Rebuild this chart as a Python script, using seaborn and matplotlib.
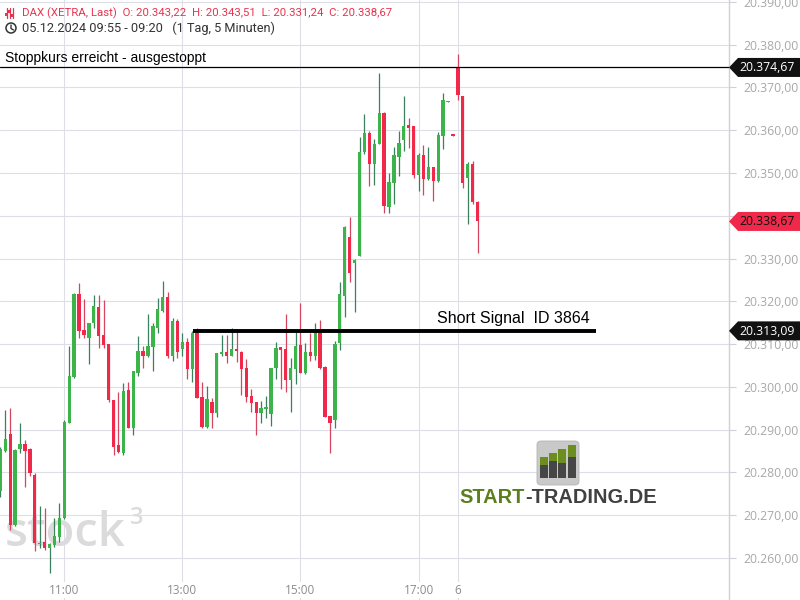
import matplotlib
matplotlib.use("Agg")
import numpy as np
import pandas as pd
import matplotlib.pyplot as plt
import seaborn as sns
from matplotlib.patches import Rectangle, Polygon, Circle, FancyBboxPatch

# 5-minute candles, DAX (XETRA), 05.12.2024 09:55 -> 06.12.2024 09:20
times = ["09:55", "10:00", "10:05", "10:10", "10:15", "10:20", "10:25", "10:30", "10:35", "10:40",
         "10:45", "10:50", "10:55", "11:00", "11:05", "11:10", "11:15", "11:20", "11:25", "11:30",
         "11:35", "11:40", "11:45", "11:50", "11:55", "12:00", "12:05", "12:10", "12:15", "12:20",
         "12:25", "12:30", "12:35", "12:40", "12:45", "12:50", "12:55", "13:00", "13:05", "13:10",
         "13:15", "13:20", "13:25", "13:30", "13:35", "13:40", "13:45", "13:50", "13:55", "14:00",
         "14:05", "14:10", "14:15", "14:20", "14:25", "14:30", "14:35", "14:40", "14:45", "14:50",
         "14:55", "15:00", "15:05", "15:10", "15:15", "15:20", "15:25", "15:30", "15:35", "15:40",
         "15:45", "15:50", "15:55", "16:00", "16:05", "16:10", "16:15", "16:20", "16:25", "16:30",
         "16:35", "16:40", "16:45", "16:50", "16:55", "17:00", "17:05", "17:10", "17:15", "17:20",
         "17:25", "17:30", "17:35", "09:00", "09:05", "09:10", "09:15", "09:20"]
opens = [20275.7, 20285.1, 20289.0, 20267.7, 20285.5, 20286.6, 20285.5, 20279.4, 20263.3, 20263.7,
         20262.3, 20263.1, 20264.8, 20269.3, 20291.6, 20302.3, 20321.7, 20313.3, 20311.5, 20314.9,
         20318.6, 20312.1, 20310.0, 20296.9, 20286.4, 20284.6, 20299.3, 20290.5, 20303.3, 20308.4,
         20307.2, 20309.4, 20313.8, 20317.8, 20320.9, 20307.1, 20315.4, 20308.9, 20310.6, 20304.1,
         20312.5, 20297.6, 20290.7, 20296.5, 20294.0, 20307.7, 20308.1, 20307.2, 20308.9, 20308.2,
         20304.3, 20297.9, 20296.4, 20293.8, 20294.9, 20293.6, 20304.3, 20309.3, 20308.9, 20301.5,
         20304.2, 20309.8, 20303.3, 20308.2, 20307.3, 20312.9, 20304.7, 20293.2, 20292.3, 20310.2,
         20321.3, 20335.1, 20328.9, 20330.6, 20354.8, 20359.4, 20352.1, 20356.8, 20364.1, 20342.1,
         20347.7, 20353.8, 20357.6, 20361.1, 20360.9, 20349.6, 20354.2, 20348.6, 20351.4, 20348.1,
         20358.7, 20366.5, 20359.1, 20374.67, 20368.0, 20348.9, 20352.1, 20343.22]
highs = [20286.0, 20294.6, 20295.1, 20285.5, 20291.5, 20287.6, 20285.6, 20279.8, 20272.2, 20271.6,
         20263.5, 20269.3, 20272.8, 20292.2, 20309.6, 20322.0, 20324.2, 20320.5, 20315.0, 20321.5,
         20321.5, 20320.3, 20310.1, 20297.0, 20298.9, 20300.8, 20301.2, 20303.8, 20311.9, 20309.6,
         20317.0, 20315.0, 20320.7, 20324.7, 20322.1, 20316.2, 20315.8, 20312.7, 20311.4, 20313.1,
         20313.7, 20301.1, 20300.2, 20297.5, 20308.0, 20312.1, 20312.1, 20313.7, 20313.5, 20308.5,
         20306.4, 20299.5, 20296.5, 20296.7, 20297.9, 20304.4, 20310.6, 20309.4, 20317.0, 20306.7,
         20312.9, 20319.7, 20310.2, 20312.5, 20315.0, 20315.6, 20304.8, 20293.3, 20310.7, 20324.4,
         20337.5, 20339.6, 20329.9, 20358.5, 20363.8, 20359.7, 20357.9, 20373.4, 20364.2, 20350.1,
         20356.0, 20359.9, 20368.0, 20362.8, 20361.0, 20354.6, 20356.5, 20356.1, 20351.5, 20359.5,
         20368.6, 20366.9, 20359.1, 20377.7, 20368.0, 20352.5, 20352.8, 20343.51]
lows = [20274.2, 20284.8, 20266.5, 20267.5, 20284.5, 20276.7, 20279.2, 20261.7, 20262.3, 20261.9,
        20256.4, 20262.6, 20263.8, 20269.0, 20291.5, 20302.0, 20311.4, 20311.4, 20305.3, 20313.7,
        20309.0, 20309.2, 20296.5, 20284.1, 20284.6, 20284.1, 20290.3, 20288.8, 20302.5, 20304.5,
        20307.0, 20303.8, 20312.5, 20317.6, 20306.8, 20306.1, 20306.8, 20307.3, 20301.8, 20301.2,
        20297.4, 20290.5, 20290.5, 20290.3, 20293.0, 20307.3, 20305.6, 20307.1, 20305.9, 20298.1,
        20296.5, 20294.2, 20288.8, 20291.5, 20292.8, 20290.9, 20301.8, 20299.5, 20298.9, 20294.2,
        20300.7, 20303.2, 20303.0, 20306.1, 20306.3, 20304.2, 20292.9, 20284.6, 20290.3, 20308.6,
        20316.4, 20324.4, 20317.6, 20330.5, 20354.4, 20347.0, 20347.2, 20356.7, 20340.7, 20340.7,
        20342.7, 20349.3, 20355.1, 20355.9, 20348.9, 20345.8, 20344.9, 20348.3, 20343.5, 20347.9,
        20355.6, 20366.5, 20358.7, 20367.1, 20346.6, 20338.1, 20342.7, 20331.24]
closes = [20285.5, 20287.7, 20267.7, 20285.2, 20286.6, 20285.1, 20279.8, 20263.4, 20263.5, 20262.3,
          20263.3, 20265.1, 20269.3, 20291.9, 20302.5, 20321.7, 20313.1, 20312.1, 20314.9, 20318.9,
          20311.9, 20309.8, 20296.9, 20286.0, 20284.8, 20299.0, 20290.5, 20303.6, 20308.4, 20307.2,
          20309.6, 20314.2, 20318.1, 20320.9, 20307.1, 20315.4, 20308.2, 20310.6, 20304.2, 20312.7,
          20297.5, 20290.7, 20297.2, 20294.0, 20307.9, 20308.2, 20307.2, 20308.9, 20308.3, 20304.2,
          20297.7, 20296.3, 20293.8, 20295.1, 20295.1, 20304.3, 20309.0, 20308.6, 20301.5, 20304.3,
          20309.6, 20303.3, 20308.2, 20307.3, 20312.9, 20304.3, 20293.0, 20291.6, 20310.0, 20321.7,
          20337.4, 20326.7, 20329.7, 20354.8, 20359.4, 20352.1, 20356.8, 20364.1, 20342.3, 20348.0,
          20354.2, 20357.1, 20361.0, 20360.6, 20349.6, 20354.2, 20348.6, 20351.4, 20348.1, 20358.9,
          20367.1, 20366.9, 20358.7, 20368.2, 20347.6, 20352.1, 20343.3, 20338.67]

x_labels = ["11:00", "13:00", "15:00", "17:00", "6"]
x_label_pos = [13, 37, 61, 85, 93]

stop_price = 20374.67
signal_price = 20313.09
last_price = 20338.67
signal_start, signal_end = 39.2, 121.1

df = pd.DataFrame({"time": times, "open": opens, "high": highs, "low": lows, "close": closes})
df["x"] = np.arange(len(df))
df["up"] = df["close"] >= df["open"]

sns.set_theme(style="white")
plt.rcParams['font.family'] = ['Open Sans', 'DejaVu Sans']

GREEN, GREEN_WICK = "#3cb44a", "#3a7f5e"
RED, RED_WICK = "#f0294b", "#d6445f"
GRID = "#dedee6"

fig = plt.figure(figsize=(8, 6), dpi=100)
ax = fig.add_axes([0, 0, 729 / 800, 1])
ax.set_xlim(-0.07, 148.1)
ax.set_ylim(20250.18, 20390.43)

# candles
wick_col = np.where(df["up"], GREEN_WICK, RED_WICK)
body_col = np.where(df["up"], GREEN, RED)
ax.vlines(df["x"], df["low"], df["high"], colors=wick_col, lw=0.9, zorder=3)
body_low = df[["open", "close"]].min(axis=1)
body_h = (df["close"] - df["open"]).abs().clip(lower=0.3)
ax.bar(df["x"], body_h, bottom=body_low, width=0.68, color=body_col, lw=0, zorder=4)

# grid
ax.set_yticks(np.arange(20260, 20391, 10))
ax.set_yticklabels([f"{v:,.2f}".replace(",", "X").replace(".", ",").replace("X", ".")
                    for v in np.arange(20260, 20391, 10)])
ax.set_xticks(x_label_pos)
ax.grid(True, color=GRID, lw=0.8, zorder=0)
ax.yaxis.tick_right()
ax.tick_params(axis="y", direction="out", length=5, color="#cfd0d8", labelcolor="#a8a8a8",
               labelsize=8.8, pad=5, width=0.8)
ax.tick_params(axis="x", length=0, labelbottom=False)
for s in ["top", "left", "bottom"]:
    ax.spines[s].set_visible(False)
ax.spines["right"].set_color("#cfd0d8")
ax.spines["right"].set_linewidth(1)

for lab, pos in zip(x_labels, x_label_pos):
    ax.text(pos, 10 / 600, lab, transform=ax.get_xaxis_transform(), ha="center", va="center",
            fontsize=8.5, color="#8c8c8c", zorder=5,
            bbox=dict(boxstyle="square,pad=0.15", fc="white", ec="none"))

# watermark
ax.text(5 / 729, 1 - 546 / 600, "stock", transform=ax.transAxes, fontsize=34,
        fontweight="semibold", color="#dbdbdb", va="baseline", ha="left", zorder=1)
ax.text(130 / 729, 1 - 524 / 600, "3", transform=ax.transAxes, fontsize=17,
        fontweight="semibold", color="#dbdbdb", va="baseline", ha="left", zorder=1)

# lines
ax.axhline(stop_price, color="black", lw=0.9, zorder=5)
ax.hlines(signal_price, signal_start, signal_end, color="black", lw=2.8, zorder=5)
ax.text(5 / 729, stop_price + 2.3, "Stoppkurs erreicht - ausgestoppt", transform=ax.get_yaxis_transform(),
        family=["Liberation Sans"], fontsize=10, color="black", va="center", ha="left", zorder=6)
ax.text(437 / 729, signal_price + 2.8, "Short Signal  ID 3864", transform=ax.get_yaxis_transform(),
        family=["Liberation Sans"], fontsize=11.5, color="black", va="center", ha="left", zorder=6)

# logo (start-trading.de)
def axp(x, y):
    return (x / 729, 1 - y / 600)

ax.add_patch(FancyBboxPatch(axp(537, 485), 42 / 729, 44 / 600, transform=ax.transAxes,
                            boxstyle="round,pad=0,rounding_size=0.006", fc="#c9c9c9", ec="#b5b5b5",
                            lw=0.6, zorder=5))
bar_x = [540, 549, 558, 568]
bar_top = [457, 453, 449, 445]
bar_mid = [465, 461, 463, 457]
for bx, bt, bm in zip(bar_x, bar_top, bar_mid):
    ax.add_patch(Rectangle(axp(bx, 478), 7.5 / 729, (478 - bm) / 600, transform=ax.transAxes,
                           fc="#464646", ec="none", zorder=6))
    ax.add_patch(Rectangle(axp(bx, bm), 7.5 / 729, (bm - bt) / 600, transform=ax.transAxes,
                           fc="#6b8e1e", ec="none", zorder=6))
t1 = ax.text(459 / 729, 1 - 503 / 600, "START", transform=ax.transAxes, family=["Liberation Sans"],
             fontsize=14.4, fontweight="bold", color="#5b7f1e", va="baseline", ha="left", zorder=6)
fig.canvas.draw()
bb = t1.get_window_extent()
ax.text(bb.x1 / 729 + 1 / 729, 1 - 503 / 600, "-TRADING.DE", transform=ax.transAxes,
        family=["Liberation Sans"], fontsize=14.4, fontweight="bold", color="#404040",
        va="baseline", ha="left", zorder=6)

# overlay in pixel coordinates for header and price tags
ov = fig.add_axes([0, 0, 1, 1], zorder=5)
ov.set_xlim(0, 800)
ov.set_ylim(600, 0)
ov.axis("off")
ov.patch.set_alpha(0)

ov.text(22, 13, "DAX (XETRA, Last)  O: 20.343,22  H: 20.343,51  L: 20.331,24  C: 20.338,67",
        family=["Roboto"], fontsize=8.2, color="#e8344e", va="center", ha="left")
ov.text(22, 28, "05.12.2024 09:55 - 09:20   (1 Tag, 5 Minuten)",
        family=["Roboto"], fontsize=9.2, color="#333333", va="center", ha="left")
# small icons
for ix, iy in zip([6.5, 9.5, 12.5], [14, 11, 15]):
    ov.plot([ix, ix], [8, 18], color="#e8344e", lw=0.9)
    ov.add_patch(Rectangle((ix - 1.3, iy - 1.5), 2.6, 3, fc="#e8344e", ec="none"))
ov.add_patch(Circle((11, 28), 5, fc="none", ec="#333333", lw=1.1))
ov.plot([11, 11, 13.5], [25, 28.5, 30], color="#333333", lw=1.0)

def price_tag(price, fc, tc):
    y = 558 - (price - 20260) * 4.278
    ov.add_patch(Polygon([(729, y), (738, y - 9.5), (800, y - 9.5), (800, y + 9.5), (738, y + 9.5)],
                         closed=True, fc=fc, ec="none"))
    lab = f"{price:,.2f}".replace(",", "X").replace(".", ",").replace("X", ".")
    ov.text(767, y + 0.5, lab, fontsize=8.8, color=tc, va="center", ha="center")

price_tag(stop_price, "#111111", "white")
price_tag(last_price, "#f0294b", "#111111")
price_tag(signal_price, "#111111", "white")

fig.savefig("out.png", dpi=100)
